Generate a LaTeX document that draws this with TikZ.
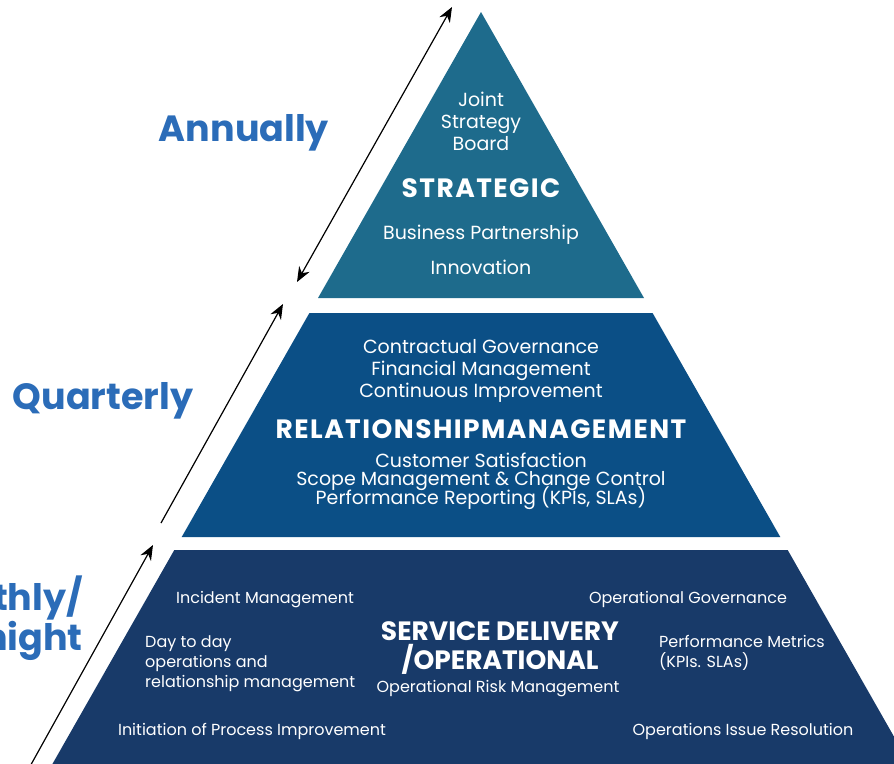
\documentclass[tikz,border=0pt]{standalone}
\usepackage{fontspec}
\setmainfont{Poppins}
\usetikzlibrary{arrows.meta}

\definecolor{stratcol}{HTML}{1E6B8C}
\definecolor{relcol}{HTML}{0B4F86}
\definecolor{servcol}{HTML}{183A69}
\definecolor{freqcol}{HTML}{2B6CB8}
\newcommand{\tightskip}{\setlength{\lineskiplimit}{-20pt}}

\begin{document}
\begin{tikzpicture}[x=1pt, y=-1pt,
    item/.style = {text=white, align=center, inner sep=0pt, font=\fontsize{19}{22}\selectfont},
    small/.style = {text=white, align=center, inner sep=0pt, font=\fontsize{16}{20}\selectfont},
    head/.style = {text=white, align=center, inner sep=0pt, font=\bfseries\fontsize{26.5}{28.5}\selectfont\addfontfeatures{LetterSpace=5.5}},
    freq/.style = {text=freqcol, align=center, inner sep=0pt, font=\bfseries\fontsize{36.5}{38}\selectfont},
    span/.style = {line width=1.2pt, -{Stealth[length=15pt,width=12pt]}}]
        \useasboundingbox (0,0) rectangle (894,763);
        \clip (0,0) rectangle (894,763);

        % layers
        \fill[stratcol] (481,12) -- (644,298) -- (318,298) -- cycle;
        \fill[relcol] (309.4,313) -- (652.6,313) -- (780.3,537) -- (181.7,537) -- cycle;
        \fill[servcol] (174.3,550) -- (787.7,550) -- (913,770) -- (49,770) -- cycle;

        % frequency labels
        \node[freq] (ann) at (244,133) {Annually};
        \node[freq] (qtr) at (103,401) {Quarterly};
        \node[freq, align=right, anchor=east] (mon) at (83,618) {Monthly/\\Fortnight};

        % arrows
        \coordinate (a1s) at (297,282);
        \coordinate (a1e) at (452,7);
        \coordinate (a2s) at (161,523);
        \coordinate (a2e) at (283,304);
        \coordinate (a3s) at (28,770);
        \coordinate (a3e) at (153,545);
        \draw[span, {Stealth[length=15pt,width=12pt]}-{Stealth[length=15pt,width=12pt]}] (a1s) -- (a1e);
        \draw[span] (a2s) -- (a2e);
        \draw[span] (a3s) -- (a3e);

        % strategic
        \node[item] (board) at (481,121) {Joint\\Strategy\\Board};
        \node[head] (strat) at (481,188) {STRATEGIC};
        \node[item] (bp) at (481,235) {Business Partnership};
        \node[item] (inno) at (481,267) {Innovation};

        % relationship management
        \node[item] (gov) at (481,371) {Contractual Governance\\Financial Management\\Continuous Improvement};
        \node[head] (rel) at (481,429) {RELATIONSHIPMANAGEMENT};
        \node[item, font=\fontsize{19}{18.5}\selectfont\tightskip] (cust) at (481,481) {Customer Satisfaction\\Scope Management \& Change Control\\Performance Reporting (KPIs, SLAs)};

        % service delivery
        \node[head, font=\bfseries\fontsize{26.5}{28.5}\selectfont] (serv) at (500,648) {SERVICE DELIVERY\\/OPERATIONAL};
        \node[small] (risk) at (498,689) {Operational Risk Management};
        \node[small] (inc) at (265,600) {Incident Management};
        \node[small, align=left, anchor=west] (day) at (145,664) {Day to day\\operations and\\relationship management};
        \node[small] (init) at (252,731) {Initiation of Process Improvement};
        \node[small] (opgov) at (688,599) {Operational Governance};
        \node[small, align=left, anchor=west] (perf) at (659,653) {Performance Metrics\\(KPIs. SLAs)};
        \node[small] (issue) at (743,731) {Operations Issue Resolution};
    \end{tikzpicture}
\end{document}
